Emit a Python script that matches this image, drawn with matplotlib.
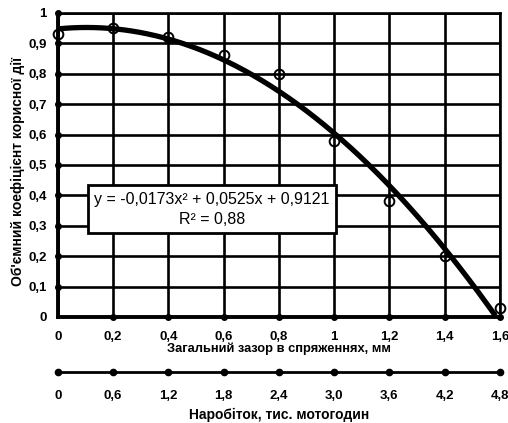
import numpy as np
import matplotlib
matplotlib.use("Agg")
import matplotlib.pyplot as plt

plt.rcParams['font.family'] = ['Liberation Sans', 'DejaVu Sans']

# measured points
gap_mm = [0, 0.2, 0.4, 0.6, 0.8, 1.0, 1.2, 1.4, 1.6]
efficiency = [0.93, 0.95, 0.92, 0.86, 0.80, 0.58, 0.38, 0.20, 0.03]

# trendline coefficients as printed on the chart (x = point index 1..9)
coef = [-0.0173, 0.0525, 0.9121]
r2_text = "0,88"

x_ticks = [0, 0.2, 0.4, 0.6, 0.8, 1.0, 1.2, 1.4, 1.6]
x_ticklabels = ["0", "0,2", "0,4", "0,6", "0,8", "1", "1,2", "1,4", "1,6"]
y_ticks = [0, 0.1, 0.2, 0.3, 0.4, 0.5, 0.6, 0.7, 0.8, 0.9, 1.0]
y_ticklabels = ["0", "0,1", "0,2", "0,3", "0,4", "0,5", "0,6", "0,7", "0,8", "0,9", "1"]
hours = [0, 0.6, 1.2, 1.8, 2.4, 3.0, 3.6, 4.2, 4.8]
hour_labels = ["0", "0,6", "1,2", "1,8", "2,4", "3,0", "3,6", "4,2", "4,8"]

fig = plt.figure(figsize=(5.08, 4.23), dpi=100)
ax = fig.add_axes([0.114, 0.2506, 0.870, 0.719])

# trendline
xs = np.linspace(0, 1.6, 300)
idx = xs / 0.2 + 1
ys = np.polyval(coef, idx)
keep = ys >= 0
ax.plot(xs[keep], ys[keep], color="black", lw=3.8, zorder=3, solid_capstyle="butt")

ax.plot(gap_mm, efficiency, "o", ms=7, mfc="none", mec="black", mew=1.4,
        zorder=4, clip_on=False)

ax.set_xlim(0, 1.6)
ax.set_ylim(0, 1)
ax.set_xticks(x_ticks)
ax.set_xticklabels(x_ticklabels, fontsize=9.5, fontweight="bold")
ax.set_yticks(y_ticks)
ax.set_yticklabels(y_ticklabels, fontsize=9.5, fontweight="bold")
ax.tick_params(axis="x", length=0, pad=10)
ax.tick_params(axis="y", length=0, pad=8)
ax.grid(True, color="black", lw=1.9)
for s in ax.spines.values():
    s.set_linewidth(1.9)
ax.spines["left"].set_linewidth(2.8)
ax.spines["bottom"].set_linewidth(2.8)

# small dots where grid lines meet the axes
ax.plot(x_ticks[1:], [0] * (len(x_ticks) - 1), "o", ms=4, color="black", clip_on=False, zorder=5)
ax.plot([0] * (len(y_ticks) - 1), y_ticks[1:], "o", ms=4, color="black", clip_on=False, zorder=5)

ax.set_xlabel("Загальний зазор в спряженнях, мм", fontsize=9.3, fontweight="bold", labelpad=0)
ax.set_ylabel("Об'ємний коефіцієнт корисної дії", fontsize=10, fontweight="bold", va="center")
ax.yaxis.set_label_coords(-0.09, 0.48)

ax.text(0.349, 0.354, "y = -0,0173x² + 0,0525x + 0,9121\nR² = " + r2_text,
        transform=ax.transAxes, ha="center", va="center", fontsize=11.5,
        linespacing=1.45, zorder=6,
        bbox=dict(boxstyle="square,pad=0.4", fc="white", ec="black", lw=2))

# second scale: operating hours
ax2 = fig.add_axes([0.114, 0.1206, 0.870, 0.0001])
ax2.plot(hours, [0] * len(hours), "-o", color="black", lw=2, ms=4.5, clip_on=False)
ax2.set_xlim(0, 4.8)
ax2.set_ylim(-1, 1)
ax2.set_yticks([])
for s in ax2.spines.values():
    s.set_visible(False)
ax2.set_xticks(hours)
ax2.set_xticklabels(hour_labels, fontsize=9.5, fontweight="bold")
ax2.tick_params(axis="x", length=0, pad=13)
ax2.set_xlabel("Наробіток, тис. мотогодин", fontsize=10, fontweight="bold", labelpad=4)
ax2.patch.set_visible(False)

fig.savefig("out.png", dpi=100)
